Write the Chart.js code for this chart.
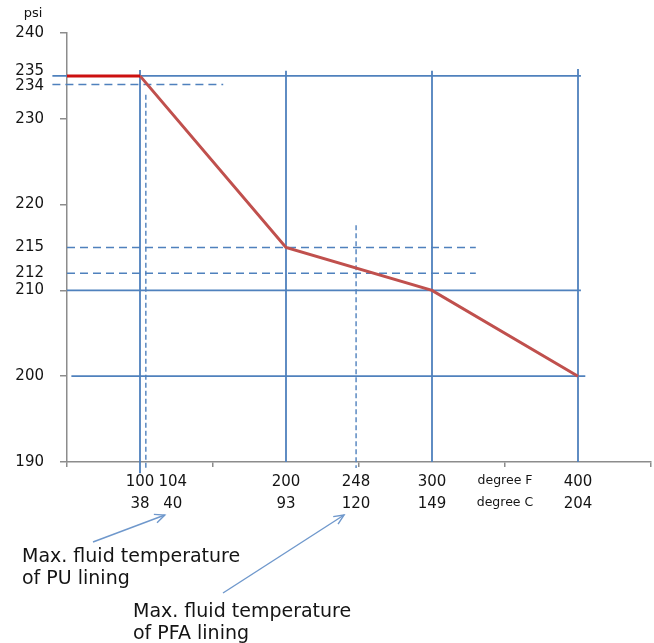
<!DOCTYPE html>
<html><head><meta charset="utf-8">
<script src="https://cdn.jsdelivr.net/npm/chart.js@4.4.1/dist/chart.umd.min.js"></script>
<style>html,body{margin:0;padding:0;background:#fff}#wrap{width:654px;height:643px;position:relative}</style>
</head><body><div id="wrap"><canvas id="c" width="654" height="643"></canvas></div>
<script>
// ---- data ----
const ratingTempF = [50, 100, 200, 300, 400];
const ratingPsi   = [235, 235, 215, 210, 200];
const tempF = [100, 104, 200, 248, 300, 400];
const tempC = [38, 40, 93, 120, 149, 204];
const solidTempF  = [100, 200, 300, 400];
const dashedTempF = [104, 248];
const solidPsi  = [235, 210, 200];
const dashedPsi = [234, 215, 212];
const markedPsi = [235, 234, 215, 212];
const yTickValues = [190, 200, 210, 220, 230, 240];
const xTickValues = [50, 150, 250, 350, 450];
const unitLabels = ['degree F', 'degree C'];
const notes = [['Max. fluid temperature', 'of PU lining'], ['Max. fluid temperature', 'of PFA lining']];
const noteTargetsF = [104, 248];

// ---- styling / layout ----
const FONT = '"DejaVu Sans", sans-serif';
const BLUE = '#4f81bd';
const TEXT = '#141414';
const vExtent = {100: [235.7, 188.7], 200: [235.6, 190], 300: [235.6, 190], 400: [235.8, 190], 104: [232.8, 189.3], 248: [217.6, 189.3]};
const hExtent = {235: [40, 402], 210: [50, 402], 200: [53, 405], 234: [40, 157], 215: [50, 330], 212: [50, 330]};
const yLabelShift = {235: -5, 234: 2};
const xLabelShift = {104: 27};

const pts = ratingTempF.map((x, i) => ({x, y: ratingPsi[i]}));
const lineDs = (data, color, width, dash) => ({
  data, borderColor: color, borderWidth: width, borderDash: dash || [],
  showLine: true, pointRadius: 0, clip: false, fill: false, tension: 0
});

const datasets = [
  lineDs(pts.slice(0, 2), '#cc1010', 3),
  lineDs(pts.slice(1), '#c0504d', 3),
  ...solidTempF.map(v => lineDs([{x: v, y: vExtent[v][0]}, {x: v, y: vExtent[v][1]}], BLUE, 1.8)),
  ...dashedTempF.map(v => lineDs([{x: v, y: vExtent[v][0]}, {x: v, y: vExtent[v][1]}], BLUE, 1.4, [5, 3])),
  ...solidPsi.map(v => lineDs([{x: hExtent[v][0], y: v}, {x: hExtent[v][1], y: v}], BLUE, 1.8)),
  ...dashedPsi.map(v => lineDs([{x: hExtent[v][0], y: v}, {x: hExtent[v][1], y: v}], BLUE, 1.4, [8, 5]))
];

function arrow(ctx, x1, y1, x2, y2) {
  ctx.beginPath(); ctx.moveTo(x1, y1); ctx.lineTo(x2, y2); ctx.stroke();
  const a = Math.atan2(y2 - y1, x2 - x1), L = 11, w = 0.42;
  ctx.beginPath();
  ctx.moveTo(x2 - L * Math.cos(a - w), y2 - L * Math.sin(a - w));
  ctx.lineTo(x2, y2);
  ctx.lineTo(x2 - L * Math.cos(a + w), y2 - L * Math.sin(a + w));
  ctx.stroke();
}

const annot = {
  id: 'annot',
  afterDraw(chart) {
    const {ctx, scales: {x, y}} = chart;
    ctx.save();
    ctx.fillStyle = TEXT;
    ctx.textBaseline = 'middle';
    ctx.font = '13px ' + FONT; ctx.textAlign = 'center';
    ctx.fillText('psi', 33, 14);
    ctx.font = '15px ' + FONT; ctx.textAlign = 'right';
    markedPsi.forEach(v => ctx.fillText(String(v), 44, y.getPixelForValue(v) + (yLabelShift[v] || 0)));
    ctx.textAlign = 'center';
    const centers = {};
    tempF.forEach((v, i) => {
      const cx = x.getPixelForValue(v) + (xLabelShift[v] || 0);
      centers[v] = cx;
      ctx.fillText(String(v), cx, 482);
      ctx.fillText(String(tempC[i]), cx, 504);
    });
    ctx.font = '12.5px ' + FONT;
    const ux = x.getPixelForValue(350);
    ctx.fillText(unitLabels[0], ux, 481);
    ctx.fillText(unitLabels[1], ux, 503);
    // notes
    ctx.font = '19px ' + FONT; ctx.textAlign = 'left';
    const notePos = [[22, 557], [133, 612]];
    notes.forEach((n, i) => {
      ctx.fillText(n[0], notePos[i][0], notePos[i][1]);
      ctx.fillText(n[1], notePos[i][0], notePos[i][1] + 22);
    });
    ctx.strokeStyle = '#6f98cc'; ctx.lineWidth = 1.4;
    arrow(ctx, 93, 542, centers[noteTargetsF[0]] - 8, 515);
    arrow(ctx, 223, 593, centers[noteTargetsF[1]] - 12, 515);
    ctx.restore();
  }
};

new Chart(document.getElementById('c'), {
  type: 'scatter',
  data: {datasets},
  plugins: [annot],
  options: {
    responsive: false, animation: false, devicePixelRatio: 1,
    layout: {padding: {top: 33, right: 3, bottom: 171, left: 0}},
    plugins: {legend: {display: false}, tooltip: {enabled: false}},
    scales: {
      x: {
        type: 'linear', min: 50, max: 450,
        afterBuildTicks: s => { s.ticks = xTickValues.map(v => ({value: v})); },
        afterFit: s => { s.height = 10; },
        ticks: {display: false},
        grid: {drawOnChartArea: false, drawTicks: true, tickLength: 5, color: '#8c8c8c', lineWidth: 1.5},
        border: {color: '#8c8c8c', width: 1.5}
      },
      y: {
        type: 'linear', min: 190, max: 240,
        afterBuildTicks: s => { s.ticks = yTickValues.map(v => ({value: v})); },
        afterFit: s => { s.width = 67; },
        ticks: {autoSkip: false, padding: 16, color: TEXT, font: {family: FONT, size: 15}, callback: v => String(v)},
        grid: {drawOnChartArea: false, drawTicks: true, tickLength: 7, color: '#8c8c8c', lineWidth: 1.5},
        border: {color: '#8c8c8c', width: 1.5}
      }
    }
  }
});
</script>
</body></html>
